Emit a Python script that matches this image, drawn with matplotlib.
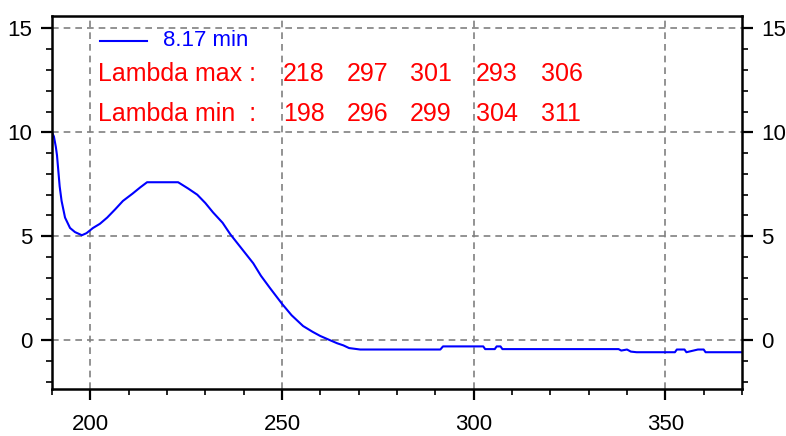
import numpy as np
import matplotlib.pyplot as plt
from matplotlib.ticker import MultipleLocator

plt.rcParams["font.family"] = ["Liberation Sans", "DejaVu Sans"]

wavelength = [190, 190.5, 191, 191.3, 192, 192.5, 193.4, 194.7, 196, 197.8, 199, 200.7,
              202.5, 204.4, 206.5, 208.5, 211, 213, 214.8, 222.9, 225.5, 227.9, 230, 232,
              234.5, 236.5, 239.5, 242.5, 244.5, 246.9, 250, 252.5, 255.5, 258, 260, 262.5,
              264.4, 266, 267.5, 270.4, 291.3, 292, 302.5, 303, 305.5, 306, 307, 307.5,
              337.8, 338.5, 340, 341, 342.5, 352.5, 353, 355, 355.5, 358.5, 360, 360.5, 370]
absorbance = [10.0, 9.8, 9.3, 8.9, 7.4, 6.7, 5.9, 5.4, 5.2, 5.05, 5.15, 5.4,
              5.6, 5.9, 6.3, 6.7, 7.05, 7.35, 7.6, 7.6, 7.3, 7.0, 6.6, 6.15,
              5.65, 5.1, 4.4, 3.7, 3.1, 2.5, 1.75, 1.2, 0.68, 0.4, 0.2, 0.0,
              -0.15, -0.25, -0.38, -0.45, -0.45, -0.3, -0.3, -0.43, -0.43, -0.3, -0.3, -0.43,
              -0.43, -0.5, -0.45, -0.55, -0.58, -0.58, -0.45, -0.45, -0.58, -0.45, -0.45, -0.58, -0.58]

legend_label = "8.17 min"
lambda_max = [218, 297, 301, 293, 306]
lambda_min = [198, 296, 299, 304, 311]

fig = plt.figure(figsize=(7.86, 4.36), dpi=100)
ax = fig.add_axes([52 / 786, 1 - 389 / 436, 690 / 786, 373 / 436])

ax.plot(wavelength, absorbance, color="#0000ff", lw=1.5)

ax.set_xlim(190, 370)
ax.set_ylim(-2.35, 15.6)
ax.xaxis.set_major_locator(MultipleLocator(50))
ax.xaxis.set_minor_locator(MultipleLocator(10))
ax.yaxis.set_major_locator(MultipleLocator(5))
ax.yaxis.set_minor_locator(MultipleLocator(1))

ax.grid(True, which="major", color="#808080", ls=(0, (4, 3)), lw=1.2)
for s in ax.spines.values():
    s.set_linewidth(1.8)
ax.tick_params(axis="both", which="both", direction="out", width=1.2, labelsize=16)
ax.tick_params(axis="y", which="both", left=True, right=True, labelleft=True, labelright=True)
ax.tick_params(which="major", length=8, width=1.6)
ax.tick_params(which="minor", length=4)
ax.tick_params(axis="x", pad=10)
ax.tick_params(axis="y", pad=6)

def px(x, y):
    return x / 786, 1 - y / 436

fig.add_artist(plt.Line2D([100 / 786, 147 / 786], [1 - 41 / 436] * 2, color="#0000ff", lw=1.5))
fig.text(*px(163, 41), legend_label, color="#0000ff", fontsize=16, va="center")

red = "#ff0000"
fig.text(*px(98, 74), "Lambda max :", color=red, fontsize=18, va="center")
fig.text(*px(98, 114), "Lambda min  :", color=red, fontsize=18, va="center")
xs = [283, 347, 410, 476, 541]
for x, vmax, vmin in zip(xs, lambda_max, lambda_min):
    fig.text(*px(x, 74), str(vmax), color=red, fontsize=18, va="center")
    fig.text(*px(x, 114), str(vmin), color=red, fontsize=18, va="center")

fig.savefig("out.png", dpi=100)
